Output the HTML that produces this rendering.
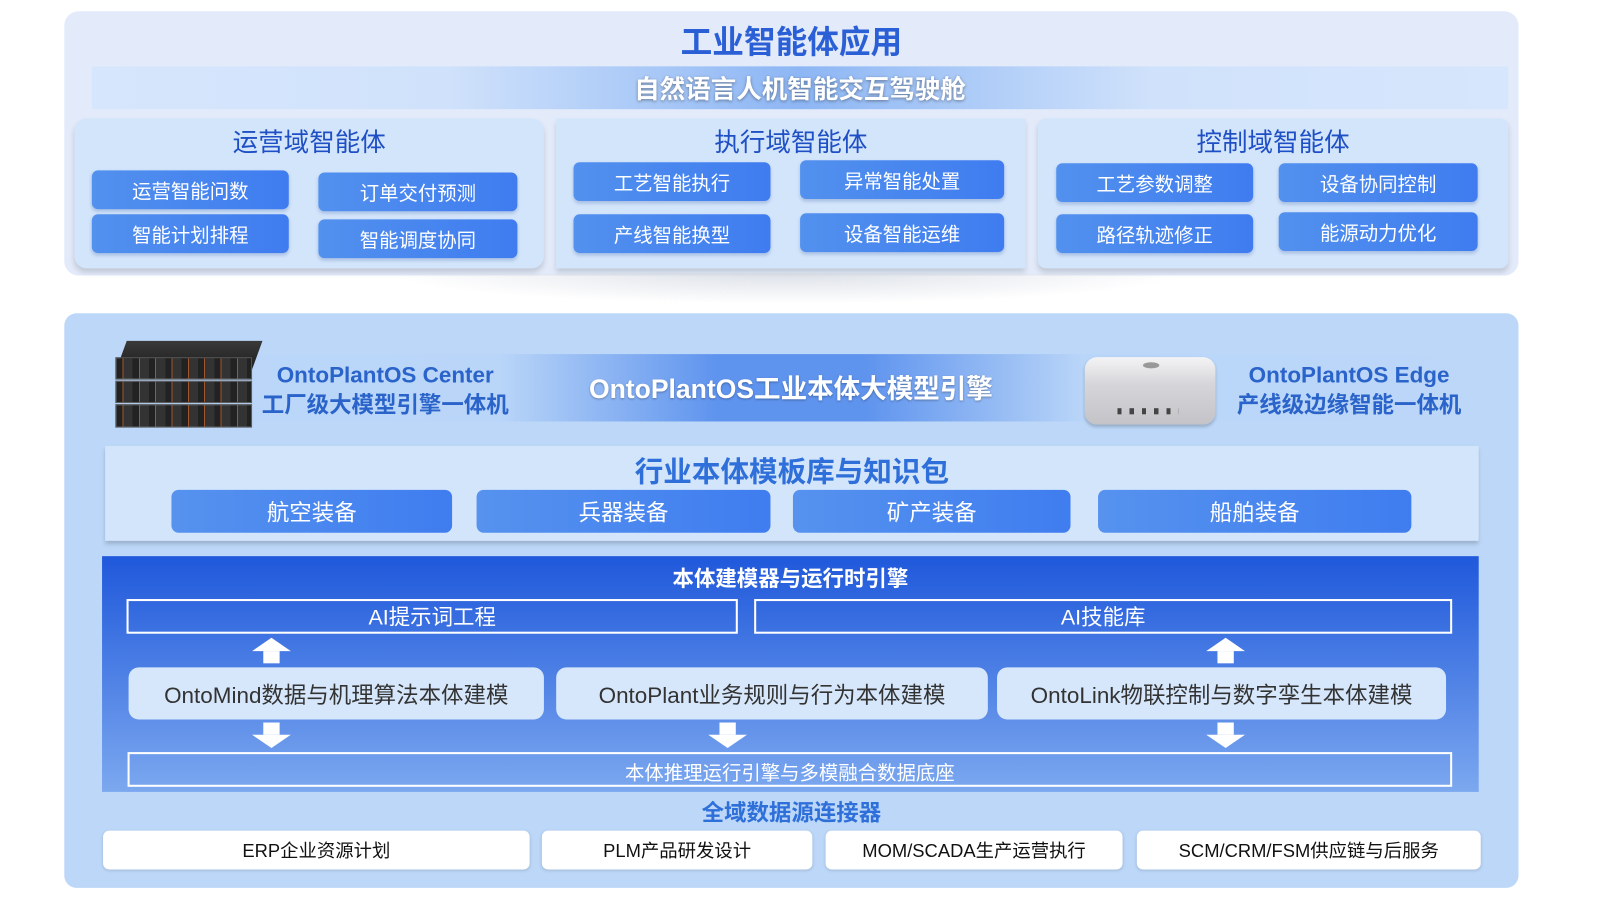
<!DOCTYPE html>
<html><head><meta charset="utf-8"><style>
*{margin:0;padding:0;box-sizing:border-box}
body{width:1600px;height:900px;background:#fff;position:relative;overflow:hidden;font-family:"Liberation Sans","Noto Sans CJK SC",sans-serif}
#w{position:absolute;left:0;top:0;width:1560px;height:878px;transform:scale(1.0205);transform-origin:0 0}
.a{position:absolute}
.c{display:flex;align-items:center;justify-content:center;text-align:center;white-space:nowrap}
.btn{background:linear-gradient(90deg,#5291ee,#3f7cf0);color:#fff;font-size:19px;border-radius:6px;box-shadow:0 2px 3px rgba(40,80,160,.25)}
.sub{background:#d3e5fb;border-radius:12px;box-shadow:0 4px 5px rgba(0,0,0,.15)}
.st{color:#1f4fc4;font-size:25px}
.tb{background:linear-gradient(90deg,#5692ee,#3f7df0);color:#fff;font-size:22px;border-radius:7px}
.ob{border:2px solid #fff;color:#fff;font-size:21px}
.rb{background:#d6e7fb;border-radius:10px;color:#333;font-size:22px}
.wb{background:#fff;border-radius:6px;color:#111;font-size:18px;box-shadow:0 1px 3px rgba(0,0,0,.15)}
.up{width:0;height:0;border-left:19px solid transparent;border-right:19px solid transparent;border-bottom:13px solid #fff}
.stem{background:#fff;width:16px;height:12px}
</style></head><body><div id="w">
<div class="a" style="left:63px;top:11px;width:1425px;height:259px;background:#e3ebfb;border-radius:14px"></div>
<div class="a" style="left:380px;top:268px;width:780px;height:30px;background:radial-gradient(ellipse at 50% 0,#dde1e8,rgba(255,255,255,0) 70%)"></div>
<div class="a c" style="left:63px;top:16px;width:1425px;height:44px;font-size:31px;font-weight:bold;color:#2a5fd6">工业智能体应用</div>
<div class="a c" style="left:90px;top:65px;width:1388px;height:42px;background:linear-gradient(90deg,#d6e6fc 0%,#d0e2fb 25%,#8db6f4 50%,#d0e2fb 75%,#d6e6fc 100%);color:#fff;font-size:25px;font-weight:bold;text-shadow:0 1px 3px rgba(0,0,0,.4)">自然语言人机智能交互驾驶舱</div>

<div class="a sub" style="left:73px;top:116px;width:460px;height:147px"></div>
<div class="a sub" style="left:545px;top:116px;width:460px;height:147px;border-radius:0"></div>
<div class="a sub" style="left:1017px;top:116px;width:461px;height:147px;border-radius:8px"></div>
<div class="a c st" style="left:73px;top:120px;width:460px;height:36px">运营域智能体</div>
<div class="a c st" style="left:545px;top:120px;width:460px;height:36px">执行域智能体</div>
<div class="a c st" style="left:1017px;top:120px;width:461px;height:36px">控制域智能体</div>

<div class="a c btn" style="left:90px;top:167px;width:193px;height:38px">运营智能问数</div>
<div class="a c btn" style="left:312px;top:169px;width:195px;height:38px">订单交付预测</div>
<div class="a c btn" style="left:90px;top:210px;width:193px;height:38px">智能计划排程</div>
<div class="a c btn" style="left:312px;top:215px;width:195px;height:38px">智能调度协同</div>
<div class="a c btn" style="left:562px;top:159px;width:193px;height:38px">工艺智能执行</div>
<div class="a c btn" style="left:784px;top:157px;width:200px;height:38px">异常智能处置</div>
<div class="a c btn" style="left:562px;top:210px;width:193px;height:38px">产线智能换型</div>
<div class="a c btn" style="left:784px;top:209px;width:200px;height:38px">设备智能运维</div>
<div class="a c btn" style="left:1035px;top:160px;width:193px;height:38px">工艺参数调整</div>
<div class="a c btn" style="left:1253px;top:160px;width:195px;height:38px">设备协同控制</div>
<div class="a c btn" style="left:1035px;top:210px;width:193px;height:38px">路径轨迹修正</div>
<div class="a c btn" style="left:1253px;top:208px;width:195px;height:38px">能源动力优化</div>

<div class="a" style="left:63px;top:307px;width:1425px;height:563px;background:#bcd7f8;border-radius:12px"></div>
<div class="a" style="left:63px;top:347px;width:1425px;height:66px;background:linear-gradient(90deg,rgba(180,210,248,0) 0%,#b9d5f8 30%,#5e93ee 45%,#5e93ee 55%,#b9d5f8 70%,rgba(180,210,248,0) 100%)"></div>
<div class="a c" style="left:520px;top:360px;width:510px;height:38px;color:#fff;font-size:26px;font-weight:bold;text-shadow:0 1px 2px rgba(0,0,0,.3)">OntoPlantOS工业本体大模型引擎</div>
<div class="a" style="left:114px;top:334px;width:133px;height:28px;background:linear-gradient(#3a3a3a,#1e1e1e);transform:skewX(-20deg);transform-origin:bottom"></div>
<div class="a" style="left:113px;top:350px;width:134px;height:22px;background:repeating-linear-gradient(90deg,#222 0 6px,#a0552a 6px 7px,#333 7px 16px);border:1px solid #555"></div>
<div class="a" style="left:113px;top:373px;width:134px;height:22px;background:repeating-linear-gradient(90deg,#222 0 6px,#a0552a 6px 7px,#333 7px 16px);border:1px solid #555"></div>
<div class="a" style="left:113px;top:396px;width:134px;height:23px;background:repeating-linear-gradient(90deg,#222 0 6px,#a0552a 6px 7px,#333 7px 16px);border:1px solid #555"></div>
<div class="a c" style="left:250px;top:354px;width:255px;height:28px;color:#2a63c9;font-size:22px;font-weight:bold">OntoPlantOS Center</div>
<div class="a c" style="left:250px;top:381px;width:255px;height:28px;color:#2a63c9;font-size:22px;font-weight:bold">工厂级大模型引擎一体机</div>
<div class="a" style="left:1063px;top:350px;width:128px;height:66px;border-radius:12px;background:linear-gradient(#f4f4f6,#d6d6da 40%,#c4c4c8);box-shadow:0 2px 3px rgba(0,0,0,.2)"></div>
<div class="a" style="left:1120px;top:355px;width:16px;height:6px;background:#999;border-radius:50%"></div>
<div class="a" style="left:1095px;top:400px;width:60px;height:6px;background:repeating-linear-gradient(90deg,#444 0 4px,transparent 4px 12px)"></div>
<div class="a c" style="left:1204px;top:354px;width:236px;height:28px;color:#2a63c9;font-size:22px;font-weight:bold">OntoPlantOS Edge</div>
<div class="a c" style="left:1204px;top:381px;width:236px;height:28px;color:#2a63c9;font-size:22px;font-weight:bold">产线级边缘智能一体机</div>

<div class="a" style="left:103px;top:437px;width:1346px;height:93px;background:#d3e5fb;box-shadow:0 3px 4px rgba(0,0,0,.18)"></div>
<div class="a c" style="left:103px;top:443px;width:1346px;height:36px;color:#2f6fd9;font-size:28px;font-weight:bold">行业本体模板库与知识包</div>
<div class="a c tb" style="left:168px;top:480px;width:275px;height:42px">航空装备</div>
<div class="a c tb" style="left:467px;top:480px;width:288px;height:42px">兵器装备</div>
<div class="a c tb" style="left:777px;top:480px;width:272px;height:42px">矿产装备</div>
<div class="a c tb" style="left:1076px;top:480px;width:307px;height:42px">船舶装备</div>

<div class="a" style="left:100px;top:545px;width:1349px;height:231px;background:linear-gradient(#1f58db,#7ca8ef)"></div>
<div class="a c" style="left:100px;top:551px;width:1349px;height:30px;color:#fff;font-size:21px;font-weight:bold">本体建模器与运行时引擎</div>
<div class="a c ob" style="left:124px;top:587px;width:599px;height:34px">AI提示词工程</div>
<div class="a c ob" style="left:739px;top:587px;width:684px;height:34px">AI技能库</div>
<div class="a up" style="left:247px;top:625px"></div><div class="a stem" style="left:258px;top:638px"></div>
<div class="a up" style="left:1182px;top:625px"></div><div class="a stem" style="left:1193px;top:638px"></div>
<div class="a c rb" style="left:126px;top:654px;width:407px;height:51px">OntoMind数据与机理算法本体建模</div>
<div class="a c rb" style="left:545px;top:654px;width:423px;height:51px">OntoPlant业务规则与行为本体建模</div>
<div class="a c rb" style="left:977px;top:654px;width:440px;height:51px">OntoLink物联控制与数字孪生本体建模</div>
<div class="a stem" style="left:258px;top:708px"></div><div class="a" style="left:247px;top:720px;border-left:19px solid transparent;border-right:19px solid transparent;border-top:13px solid #fff"></div>
<div class="a stem" style="left:705px;top:708px"></div><div class="a" style="left:694px;top:720px;border-left:19px solid transparent;border-right:19px solid transparent;border-top:13px solid #fff"></div>
<div class="a stem" style="left:1193px;top:708px"></div><div class="a" style="left:1182px;top:720px;border-left:19px solid transparent;border-right:19px solid transparent;border-top:13px solid #fff"></div>
<div class="a c ob" style="left:125px;top:737px;width:1298px;height:34px;font-size:19px;padding-top:4px">本体推理运行引擎与多模融合数据底座</div>

<div class="a c" style="left:63px;top:780px;width:1425px;height:30px;color:#2f6fd9;font-size:22px;font-weight:bold">全域数据源连接器</div>
<div class="a c wb" style="left:101px;top:814px;width:418px;height:38px">ERP企业资源计划</div>
<div class="a c wb" style="left:531px;top:814px;width:265px;height:38px">PLM产品研发设计</div>
<div class="a c wb" style="left:809px;top:814px;width:291px;height:38px">MOM/SCADA生产运营执行</div>
<div class="a c wb" style="left:1114px;top:814px;width:337px;height:38px">SCM/CRM/FSM供应链与后服务</div>
</div></body></html>
